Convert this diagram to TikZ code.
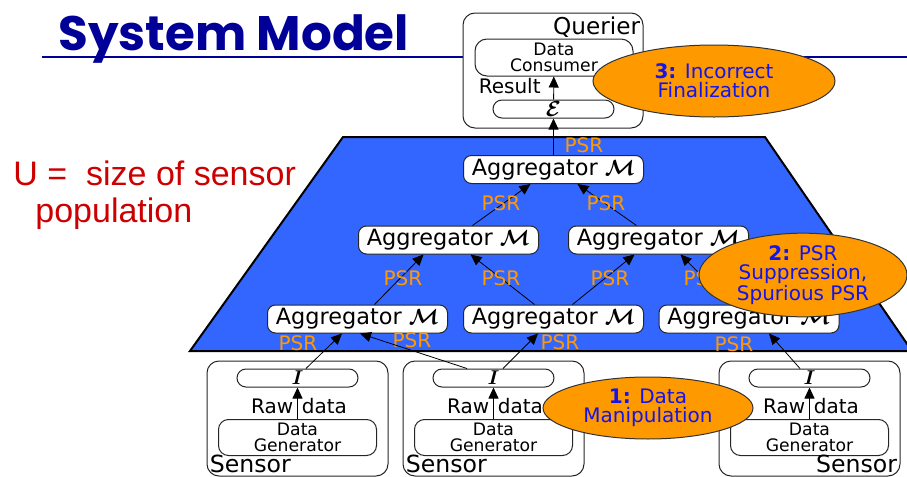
\documentclass[tikz,border=0pt]{standalone}
\usepackage{amsmath}
\usepackage{fontspec}
\setmainfont{DejaVu Sans}
\newfontfamily\titlefont{Poppins}
\newfontfamily\notefont{Liberation Sans}
\usetikzlibrary{arrows.meta,calc,shapes.geometric}
\definecolor{titleblue}{RGB}{0,0,153}
\definecolor{trapblue}{RGB}{51,102,255}
\definecolor{psrorange}{RGB}{255,153,0}
\definecolor{attackblue}{RGB}{20,20,235}
\definecolor{notered}{RGB}{204,0,0}
\newcommand{\fsz}[2]{\fontsize{#1}{#2}\selectfont}
\newcommand{\aggM}{Aggregator $\boldsymbol{\mathcal{M}}$}

\begin{document}
\begin{tikzpicture}[
    x=0.5pt, y=-0.5pt,
    roundbox/.style={draw=black!85, line width=0.5pt, fill=white, rounded corners=4pt, inner sep=0pt},
    agg/.style={roundbox, minimum width=90pt, minimum height=14pt, font=\fsz{11.2}{13}},
    iface/.style={roundbox, rounded corners=4.5pt, minimum width=60.5pt, minimum height=9pt, font=\fsz{10}{12}},
    gen/.style={roundbox, rounded corners=5pt, minimum width=79pt, minimum height=18pt, align=center, font=\fsz{8.6}{8.2}},
    sensorbox/.style={draw=black!85, line width=0.5pt, rounded corners=6pt, minimum width=90.5pt, minimum height=57.5pt, inner sep=0pt},
    psr/.style={text=psrorange, font=\fsz{10}{12}, inner sep=0pt},
    lbl/.style={font=\fsz{10}{12}, inner sep=0pt},
    flow/.style={-{Triangle[length=5.5pt,width=5pt]}, line width=0.4pt},
    attack/.style={ellipse, draw=black!80, line width=0.5pt, fill=psrorange, text=attackblue, align=center, inner sep=0pt, font=\fsz{10}{9.4}}
]
\useasboundingbox (0,0) rectangle (907,477);

% title
\draw[titleblue, line width=0.6pt] (42,57) -- (907,57);
\node[anchor=base west, text=titleblue, font=\titlefont\bfseries\fsz{24.2}{28}, inner sep=0pt] (title) at (58,50) {System Model};
\node[anchor=base west, text=notered, font=\notefont\fsz{17}{19}, inner sep=0pt] (note) at (13,185) {U =\ \ size of sensor};
\node[anchor=base west, text=notered, font=\notefont\fsz{17}{19}, inner sep=0pt] (note2) at (35,222) {population};

% querier
\node[draw=black!85, line width=0.5pt, fill=white, rounded corners=6pt, minimum width=90pt, minimum height=57.5pt, inner sep=0pt] (querier) at (553,70.5) {};
\node[lbl, font=\fsz{11.6}{13}, anchor=north east] (qlabel) at ($(querier.north east)+(-3,4)$) {Querier};
\node[roundbox, rounded corners=6pt, minimum width=79pt, minimum height=18.5pt, align=center, font=\fsz{8.6}{8.2}] (consumer) at (554,57.5) {Data\\Consumer};
\node[iface, font=\fsz{11}{12}] (ebox) at (553.5,109) {$\boldsymbol{\mathcal{E}}$};
\draw[flow] (ebox) -- (consumer);
\node[lbl, anchor=east] (result) at (541,86.5) {Result};

% aggregation network
\draw[line width=1pt, fill=trapblue] (343,137) -- (765,137) -- (912,351) -- (190,351) -- cycle;

\node[agg] (aggT) at (553.5,169.5) {\aggM};
\node[agg] (aggML) at (448.5,240) {\aggM};
\node[agg] (aggMR) at (658.5,240) {\aggM};
\node[agg] (aggBL) at (357.5,319) {\aggM};
\node[agg] (aggBM) at (553.5,319) {\aggM};
\node[agg] (aggBR) at (749,319) {\aggM};

\draw[flow] (aggT) -- (ebox);
\draw[flow] ($(aggML.north)+(24,0)$) -- ($(aggT.south)+(-23,0)$);
\draw[flow] ($(aggMR.north)+(-22,0)$) -- ($(aggT.south)+(24,0)$);
\draw[flow] ($(aggBL.north)+(17,0)$) -- ($(aggML.south)+(-25,0)$);
\draw[flow] ($(aggBM.north)+(-19,0)$) -- ($(aggML.south)+(22,0)$);
\draw[flow] ($(aggBM.north)+(19,0)$) -- ($(aggMR.south)+(-24,0)$);
\draw[flow] ($(aggBR.north)+(-19,0)$) -- ($(aggMR.south)+(22,0)$);

\node[psr] (psrE) at (584,145) {PSR};
\node[psr] (psrTL) at (501,203) {PSR};
\node[psr] (psrTR) at (606,203) {PSR};
\node[psr] (psrM1) at (403,278) {PSR};
\node[psr] (psrM2) at (501,278) {PSR};
\node[psr] (psrM3) at (610,278) {PSR};
\node[psr] (psrM4) at (703,278) {PSR};
\node[psr] (psrB1) at (298,343) {PSR};
\node[psr] (psrB2) at (412,340) {PSR};
\node[psr] (psrB3) at (560,342) {PSR};
\node[psr] (psrB4) at (734,344) {PSR};

% sensors
\foreach \s/\x in {1/297.5, 2/493.5, 3/809.5} {
    \node[sensorbox] (sensor\s) at (\x,418.5) {};
    \node[iface] (iface\s) at (\x,378) {$\boldsymbol{I}$};
    \node[gen] (gen\s) at (\x,437.5) {Data\\Generator};
    \draw[flow] (gen\s) -- (iface\s);
    \node[lbl, anchor=east] (raw\s) at ($(gen\s.north)+(-4,-13)$) {Raw};
    \node[lbl, anchor=west] (data\s) at ($(gen\s.north)+(4,-13)$) {data};
}
\node[lbl, font=\fsz{11.8}{13}, anchor=base west] (slabel1) at ($(sensor1.south west)+(3,-4)$) {Sensor};
\node[lbl, font=\fsz{11.8}{13}, anchor=base west] (slabel2) at ($(sensor2.south west)+(3,-4)$) {Sensor};
\node[lbl, font=\fsz{11.8}{13}, anchor=base east] (slabel3) at ($(sensor3.south east)+(-3,-4)$) {Sensor};

\draw[flow] ($(iface1.north)+(8.5,0)$) -- ($(aggBL.south)+(-15.5,0)$);
\draw[flow] ($(iface2.north)+(-26.5,0)$) -- ($(aggBL.south)+(2.5,0)$);
\draw[flow] ($(iface2.north)+(9.5,0)$) -- ($(aggBM.south)+(-15.5,0)$);
\draw[flow] ($(iface3.north)+(-9.5,0)$) -- ($(aggBR.south)+(20,0)$);

% attacks
\node[attack, minimum width=121pt, minimum height=36pt] (attackF) at (714,81) {\textbf{3:} Incorrect\\Finalization};
\node[attack, minimum width=104pt, minimum height=38pt] (attackP) at (803,275) {\textbf{2:} PSR\\Suppression,\\Spurious PSR};
\node[attack, minimum width=105pt, minimum height=31pt] (attackD) at (648,408) {\textbf{1:} Data\\Manipulation};

\end{tikzpicture}
\end{document}
